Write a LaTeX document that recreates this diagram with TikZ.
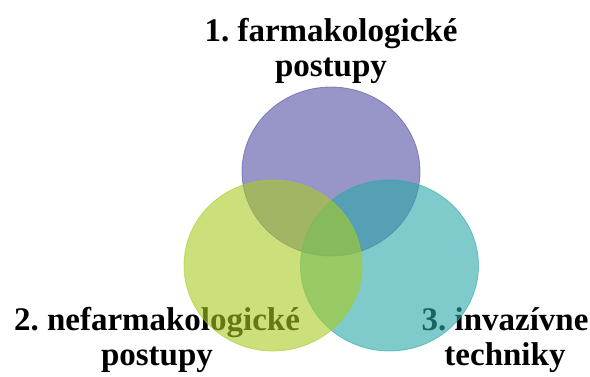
\documentclass[tikz,border=0pt]{standalone}
\usepackage{fontspec}
\setmainfont{Liberation Serif}
\definecolor{cpurple}{HTML}{5350A3}
\definecolor{cgreen}{HTML}{A8CB21}
\definecolor{cteal}{HTML}{2AA8A8}
\tikzset{
  lbl/.style={font=\fontsize{33}{35}\selectfont\bfseries\frenchspacing, align=center, text=black, inner sep=0pt},
  venn/.style={fill=#1, draw=#1, line width=0.8pt, opacity=0.6}
}
\begin{document}
\begin{tikzpicture}[x=1pt,y=-1pt]
\useasboundingbox (0,0) rectangle (590,376);
\node[lbl, anchor=base] (t1) at (331,76) {1. farmakologické\\postupy};
\node[lbl, anchor=base] (t2) at (157,365) {2. nefarmakologické\\postupy};
\node[lbl, anchor=base] (t3) at (505,365) {3. invazívne\\techniky};
\path[venn=cpurple] (331,171.5) ellipse [x radius=89, y radius=84.5];
\path[venn=cteal] (389.5,265.5) ellipse [x radius=89, y radius=85.5];
\path[venn=cgreen] (273,265.5) ellipse [x radius=89, y radius=85.5];
\end{tikzpicture}
\end{document}
